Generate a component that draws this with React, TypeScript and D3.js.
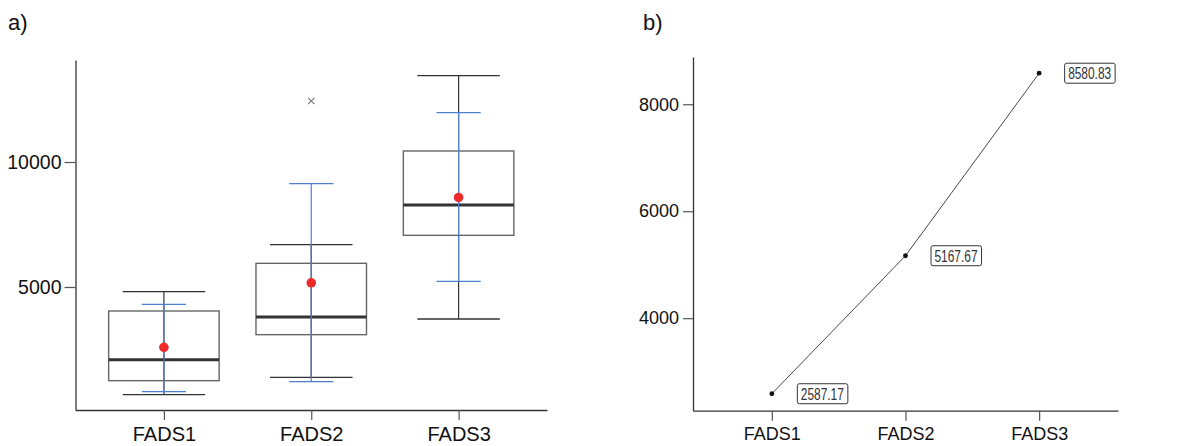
import { useEffect, useRef } from "react";
import * as d3 from "d3";

const categories = ["FADS1", "FADS2", "FADS3"];
const whiskerLow = [693, 1387, 3720];
const q1 = [1253, 3093, 7067];
const median = [2093, 3800, 8280];
const q3 = [4040, 5947, 10440];
const whiskerHigh = [4813, 6693, 13453];
const means = [2587.17, 5167.67, 8580.83];
const ciLow = [813, 1213, 5227];
const ciHigh = [4307, 9133, 11973];
const outliers = [{ cat: "FADS2", value: 12440 }];

const boxTicks = [5000, 10000];
const lineTicks = [4000, 6000, 8000];

const FONT = "'Liberation Sans', Arial, sans-serif";

const App = () => {
  const ref = useRef<SVGSVGElement | null>(null);

  useEffect(() => {
    const svg = d3.select(ref.current);
    svg.selectAll("*").remove();

    // ---- panel a: box plot ----
    const xA = d3.scalePoint().domain(categories).range([75.5, 547]).padding(0.6);
    const yA = d3.scaleLinear().domain([80, 14080]).range([410, 60]);
    const step = xA.step();

    const gA = svg.append("g");

    const axA = gA
      .append("g")
      .attr("transform", "translate(75.5,0)")
      .call(
        d3.axisLeft(yA).tickValues(boxTicks).tickFormat(d3.format("d"))
          .tickSizeInner(11).tickSizeOuter(0).tickPadding(3)
      );
    axA.selectAll("text").attr("font-size", 19.5).attr("font-family", FONT).attr("fill", "#111");

    const axAx = gA
      .append("g")
      .attr("transform", "translate(0,410)")
      .call(d3.axisBottom(xA).tickSizeInner(10).tickSizeOuter(0).tickPadding(7));
    axAx.selectAll("text").attr("font-size", 20).attr("font-family", FONT).attr("fill", "#111");
    [axA, axAx].forEach((a) => {
      a.select(".domain").attr("stroke", "#333").attr("stroke-width", 1.3);
      a.selectAll(".tick line").attr("stroke", "#555").attr("stroke-width", 1.2);
    });

    categories.forEach((c, i) => {
      const cx = xA(c) as number;
      const g = gA.append("g");
      // black whisker
      g.append("line")
        .attr("x1", cx).attr("x2", cx)
        .attr("y1", yA(whiskerLow[i])).attr("y2", yA(whiskerHigh[i]))
        .attr("stroke", "#333").attr("stroke-width", 1.2);
      [whiskerLow[i], whiskerHigh[i]].forEach((v) => {
        g.append("line")
          .attr("x1", cx - step * 0.28).attr("x2", cx + step * 0.28)
          .attr("y1", yA(v)).attr("y2", yA(v))
          .attr("stroke", "#333").attr("stroke-width", 1.3);
      });
      // box
      g.append("rect")
        .attr("x", cx - step * 0.375)
        .attr("width", step * 0.75)
        .attr("y", yA(q3[i]))
        .attr("height", yA(q1[i]) - yA(q3[i]))
        .attr("fill", "none")
        .attr("stroke", "#666")
        .attr("stroke-width", 1.4);
      g.append("line")
        .attr("x1", cx - step * 0.375).attr("x2", cx + step * 0.375)
        .attr("y1", yA(median[i])).attr("y2", yA(median[i]))
        .attr("stroke", "#333").attr("stroke-width", 3);
      // blue interval
      g.append("line")
        .attr("x1", cx).attr("x2", cx)
        .attr("y1", yA(ciLow[i])).attr("y2", yA(ciHigh[i]))
        .attr("stroke", "#4f7fcf").attr("stroke-width", 1.2);
      [ciLow[i], ciHigh[i]].forEach((v) => {
        g.append("line")
          .attr("x1", cx - step * 0.15).attr("x2", cx + step * 0.15)
          .attr("y1", yA(v)).attr("y2", yA(v))
          .attr("stroke", "#4f7fcf").attr("stroke-width", 1.3);
      });
      g.append("circle")
        .attr("cx", cx).attr("cy", yA(means[i])).attr("r", 4.8)
        .attr("fill", "#ee2a2a");
    });

    outliers.forEach((o) => {
      const cx = xA(o.cat) as number;
      const cy = yA(o.value);
      const s = 3.2;
      gA.append("path")
        .attr("d", `M${cx - s},${cy - s}L${cx + s},${cy + s}M${cx - s},${cy + s}L${cx + s},${cy - s}`)
        .attr("stroke", "#777").attr("stroke-width", 1.1);
    });

    gA.append("text").attr("x", 8).attr("y", 30).text("a)")
      .attr("font-size", 22).attr("font-family", FONT).attr("fill", "#111");

    // ---- panel b: mean line ----
    const xB = d3.scalePoint().domain(categories).range([693, 1118]).padding(0.59);
    const yB = d3.scaleLinear().domain([2270, 8884]).range([410.7, 57]);
    const gB = svg.append("g");

    const axB = gB
      .append("g")
      .attr("transform", "translate(693,0)")
      .call(
        d3.axisLeft(yB).tickValues(lineTicks).tickFormat(d3.format("d"))
          .tickSizeInner(10).tickSizeOuter(0).tickPadding(4)
      );
    axB.selectAll("text").attr("font-size", 18).attr("font-family", FONT).attr("fill", "#111");
    const axBx = gB
      .append("g")
      .attr("transform", "translate(0,410.7)")
      .call(d3.axisBottom(xB).tickSizeInner(10).tickSizeOuter(0).tickPadding(7));
    axBx.selectAll("text").attr("font-size", 18).attr("font-family", FONT).attr("fill", "#111");
    [axB, axBx].forEach((a) => {
      a.select(".domain").attr("stroke", "#333").attr("stroke-width", 1.3);
      a.selectAll(".tick line").attr("stroke", "#555").attr("stroke-width", 1.2);
    });

    const line = d3
      .line<number>()
      .x((_, i) => xB(categories[i]) as number)
      .y((d) => yB(d));
    gB.append("path").datum(means).attr("d", line)
      .attr("fill", "none").attr("stroke", "#333").attr("stroke-width", 0.9);

    const fmt = d3.format(".2f");
    means.forEach((m, i) => {
      const cx = xB(categories[i]) as number;
      const cy = yB(m);
      gB.append("circle").attr("cx", cx).attr("cy", cy).attr("r", 2.4).attr("fill", "#111");
      gB.append("rect")
        .attr("x", cx + 25.5).attr("y", cy - 10)
        .attr("width", 50.5).attr("height", 20).attr("rx", 2)
        .attr("fill", "white").attr("stroke", "#333").attr("stroke-width", 1);
      gB.append("text")
        .attr("x", cx + 29).attr("y", cy + 6)
        .attr("font-size", 16.5).attr("font-family", FONT).attr("fill", "#333")
        .attr("textLength", 43).attr("lengthAdjust", "spacingAndGlyphs")
        .text(fmt(m));
    });

    gB.append("text").attr("x", 643).attr("y", 30).text("b)")
      .attr("font-size", 22).attr("font-family", FONT).attr("fill", "#111");
  }, []);

  return (
    <svg
      ref={ref}
      width={1199}
      height={446}
      style={{ position: "absolute", left: 0, top: 0, background: "white" }}
    />
  );
};

export default App;
